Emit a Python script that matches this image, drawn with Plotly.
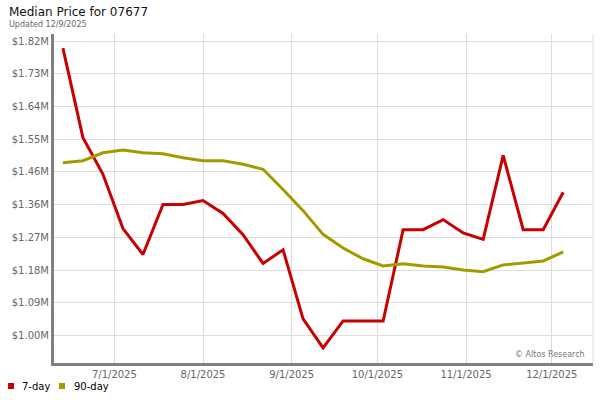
import plotly.graph_objects as go

title = "Median Price for 07677"
subtitle = "Updated 12/9/2025"

weeks = [
    "2025-06-13", "2025-06-20", "2025-06-27", "2025-07-04", "2025-07-11",
    "2025-07-18", "2025-07-25", "2025-08-01", "2025-08-08", "2025-08-15",
    "2025-08-22", "2025-08-29", "2025-09-05", "2025-09-12", "2025-09-19",
    "2025-09-26", "2025-10-03", "2025-10-10", "2025-10-17", "2025-10-24",
    "2025-10-31", "2025-11-07", "2025-11-14", "2025-11-21", "2025-11-28",
    "2025-12-05",
]
price_7day = [
    1.800, 1.551, 1.449, 1.298, 1.226, 1.365, 1.365, 1.376, 1.340, 1.281,
    1.201, 1.239, 1.047, 0.966, 1.041, 1.041, 1.041, 1.295, 1.295, 1.323,
    1.286, 1.268, 1.502, 1.295, 1.295, 1.399,
]
price_90day = [
    1.481, 1.487, 1.509, 1.517, 1.509, 1.506, 1.495, 1.487, 1.487, 1.477,
    1.463, 1.407, 1.348, 1.282, 1.244, 1.214, 1.194, 1.200, 1.194, 1.191,
    1.183, 1.178, 1.197, 1.203, 1.208, 1.233,
]

y_ticks = [1.00, 1.0911, 1.1822, 1.2733, 1.3644, 1.4556, 1.5467, 1.6378, 1.7289, 1.82]
y_labels = ["$1.00M", "$1.09M", "$1.18M", "$1.27M", "$1.36M",
            "$1.46M", "$1.55M", "$1.64M", "$1.73M", "$1.82M"]
x_ticks = ["2025-07-01", "2025-08-01", "2025-09-01", "2025-10-01", "2025-11-01", "2025-12-01"]
x_labels = ["7/1/2025", "8/1/2025", "9/1/2025", "10/1/2025", "11/1/2025", "12/1/2025"]

series_names = ["7-day", "90-day"]

RED = "#c80000"
OLIVE = "#a09c00"
FONT = "DejaVu Sans"

# plot area in pixels: left 54, right 593, top 34, bottom 363
L, R, T, B = 54, 593, 34, 363
def px(x):
    return (x - L) / (R - L)
def py(y):
    return (B - y) / (B - T)

fig = go.Figure()
fig.add_trace(go.Scatter(x=weeks, y=price_7day, mode="lines", name=series_names[0],
                         line=dict(color=RED, width=3)))
fig.add_trace(go.Scatter(x=weeks, y=price_90day, mode="lines", name=series_names[1],
                         line=dict(color=OLIVE, width=3)))

fig.update_xaxes(
    range=["2025-06-09 21:00", "2025-12-15 10:00"],
    tickvals=x_ticks, ticktext=x_labels,
    showgrid=True, gridcolor="#dddddd", gridwidth=1,
    showline=True, linecolor="#808080", linewidth=3,
    tickfont=dict(size=10, color="#666666", family=FONT),
    ticks="", zeroline=False, automargin=False,
)
fig.update_yaxes(
    range=[0.924, 1.8395],
    tickvals=y_ticks, ticktext=y_labels,
    showgrid=True, gridcolor="#dddddd", gridwidth=1,
    showline=True, linecolor="#808080", linewidth=3,
    tickfont=dict(size=10, color="#666666", family=FONT),
    ticks="", zeroline=False, automargin=False,
)

fig.add_shape(type="line", xref="paper", yref="paper", x0=1, x1=1, y0=0, y1=1,
              line=dict(color="#dddddd", width=1))

fig.add_annotation(text=title, xref="paper", yref="paper", x=px(7), y=py(12),
                   xanchor="left", yanchor="middle", showarrow=False,
                   font=dict(size=12, color="#111111", family=FONT))
fig.add_annotation(text=subtitle, xref="paper", yref="paper", x=px(7), y=py(25),
                   xanchor="left", yanchor="middle", showarrow=False,
                   font=dict(size=8, color="#666666", family=FONT))
fig.add_annotation(text="© Altos Research", xref="paper", yref="paper", x=px(587), y=py(354),
                   xanchor="right", yanchor="middle", showarrow=False,
                   font=dict(size=8, color="#777777", family=FONT))

# legend drawn as square swatches + labels
for name, col, sx, tx in [(series_names[0], RED, 11, 20), (series_names[1], OLIVE, 62, 72)]:
    fig.add_shape(type="rect", xref="paper", yref="paper",
                  x0=px(sx - 3), x1=px(sx + 3), y0=py(389), y1=py(383),
                  fillcolor=col, line=dict(width=0))
    fig.add_annotation(text=name, xref="paper", yref="paper", x=px(tx), y=py(386),
                       xanchor="left", yanchor="middle", showarrow=False,
                       font=dict(size=10, color="#000000", family=FONT))

fig.update_layout(
    width=600, height=400,
    margin=dict(l=L, r=600 - R, t=T, b=400 - B),
    paper_bgcolor="white", plot_bgcolor="white",
    font=dict(family=FONT, size=10, color="#000000"),
    showlegend=False,
)

# drop the browser's default body margin so the figure sits at (0, 0)
fig.write_html("out.html", config={"displayModeBar": False},
               post_script="document.body.style.margin='0';")
